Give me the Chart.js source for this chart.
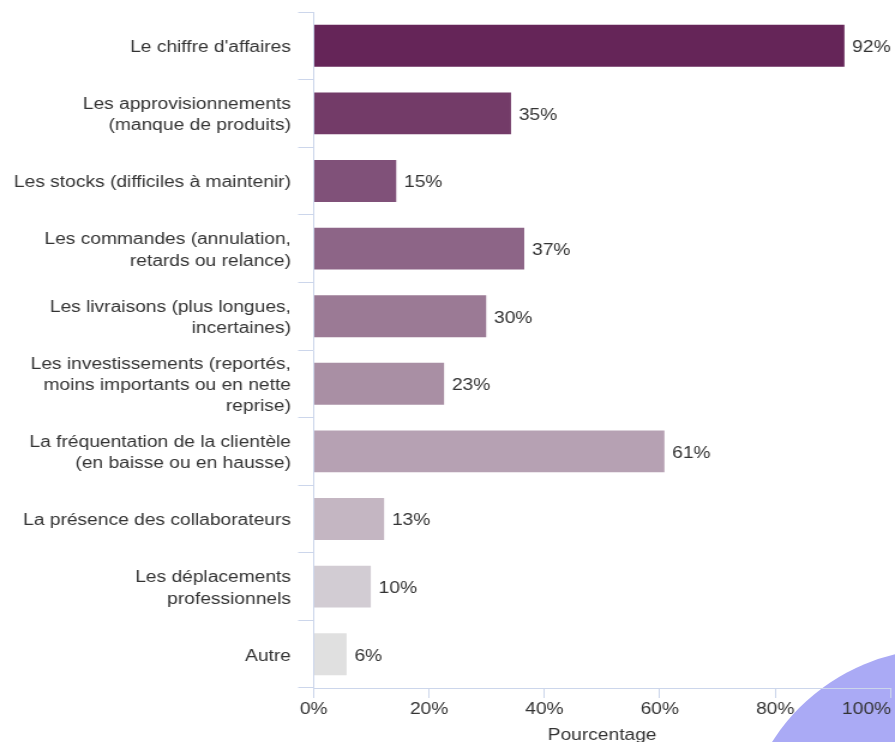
<!DOCTYPE html>
<html lang="fr">
<head>
<meta charset="utf-8">
<title>Impacts</title>
<script src="https://cdn.jsdelivr.net/npm/chart.js@4"></script>
<style>
  html, body { margin: 0; padding: 0; background: #fff; overflow: hidden; }
  body { width: 895px; height: 742px; position: relative; }
  #blob {
    position: absolute; left: 741px; top: 649px; width: 400px; height: 400px;
    border-radius: 50%; background: #aaaaf5;
  }
  #wrap {
    position: absolute; left: 0; top: 0; width: 746px; height: 742px;
    transform: scaleX(1.1997); transform-origin: 0 0;
  }
</style>
</head>
<body>
<div id="blob"></div>
<div id="wrap"><canvas id="chart" width="746" height="742"></canvas></div>
<script>
// categories (multi-line labels as arrays)
const categories = [
  "Le chiffre d'affaires",
  ["Les approvisionnements", "(manque de produits)"],
  "Les stocks (difficiles à maintenir)",
  ["Les commandes (annulation,", "retards ou relance)"],
  ["Les livraisons (plus longues,", "incertaines)"],
  ["Les investissements (reportés,", "moins importants ou en nette", "reprise)"],
  ["La fréquentation de la clientèle", "(en baisse ou en hausse)"],
  "La présence des collaborateurs",
  ["Les déplacements", "professionnels"],
  "Autre"
];

// bar lengths (percent)
const values = [92, 34.2, 14.3, 36.5, 29.9, 22.6, 60.8, 12.2, 9.9, 5.7];

// labels printed next to the bars
const valueTexts = ["92%", "35%", "15%", "37%", "30%", "23%", "61%", "13%", "10%", "6%"];

const barColors = [
  "#652558", "#733b68", "#805179", "#8d6587", "#9b7a95",
  "#a98fa4", "#b6a1b3", "#c4b6c2", "#d2ccd3", "#e0e0e0"
];

const xTickLabels = ["0%", "20%", "40%", "60%", "80%", "100%"];
const xTitle = "Pourcentage";

const axisColor = "#ccd6eb";
const textColor = "#333333";
const fontFamily = "'Liberation Sans', Arial, Helvetica, sans-serif";

// draw the value next to each bar
const valueLabels = {
  id: "valueLabels",
  afterDatasetsDraw(chart) {
    const ctx = chart.ctx;
    const meta = chart.getDatasetMeta(0);
    ctx.save();
    ctx.font = "16px " + fontFamily;
    ctx.fillStyle = textColor;
    ctx.textBaseline = "middle";
    ctx.textAlign = "left";
    meta.data.forEach((bar, i) => {
      ctx.fillText(valueTexts[i], bar.x + 6.5, bar.y + 2);
    });
    ctx.restore();
  }
};

const ctx = document.getElementById("chart");

new Chart(ctx, {
  type: "bar",
  data: {
    labels: categories,
    datasets: [
      {
        data: values,
        backgroundColor: barColors,
        borderWidth: 0,
        categoryPercentage: 1,
        barPercentage: 0.62
      }
    ]
  },
  options: {
    indexAxis: "y",
    responsive: false,
    animation: false,
    events: [],
    layout: { padding: { top: 12, right: 3.7, bottom: 0, left: 0 } },
    plugins: {
      legend: { display: false },
      tooltip: { enabled: false }
    },
    scales: {
      x: {
        min: 0,
        max: 100,
        ticks: {
          stepSize: 20,
          autoSkip: false,
          maxRotation: 0,
          padding: 2,
          color: textColor,
          font: { family: fontFamily, size: 16 },
          callback: (v, i) => {
            const label = xTickLabels[i];
            // last label pulled inside the canvas
            return i === xTickLabels.length - 1 ? label + "         " : label;
          }
        },
        grid: {
          drawOnChartArea: false,
          tickLength: 10,
          color: axisColor
        },
        border: { color: axisColor },
        title: {
          display: true,
          text: xTitle,
          color: textColor,
          padding: { top: 0, bottom: -3 },
          font: { family: fontFamily, size: 16 }
        },
        afterFit: (scale) => {
          scale.height = 54;
          scale.paddingLeft = 0;
          scale.paddingRight = 0;
        }
      },
      y: {
        ticks: {
          padding: 6,
          labelOffset: 2,
          color: textColor,
          autoSkip: false,
          font: { family: fontFamily, size: 16, lineHeight: 1.32 }
        },
        grid: {
          drawOnChartArea: false,
          tickLength: 13,
          color: axisColor
        },
        border: { color: axisColor },
        afterFit: (scale) => {
          scale.width = 261.5;
          scale.paddingTop = 0;
          scale.paddingBottom = 0;
        }
      }
    }
  },
  plugins: [valueLabels]
});
</script>
</body>
</html>
